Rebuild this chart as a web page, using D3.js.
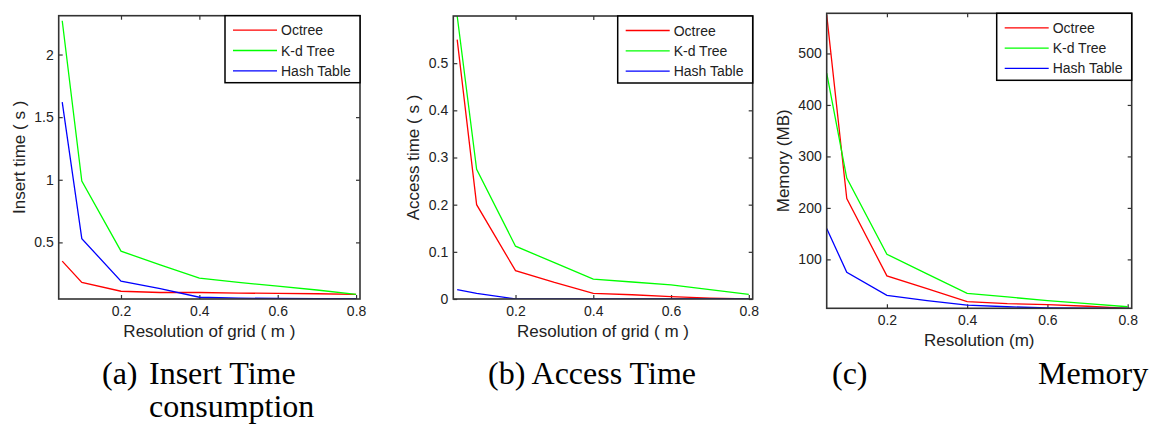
<!DOCTYPE html>
<html>
<head>
<meta charset="utf-8">
<script src="https://cdn.jsdelivr.net/npm/d3@7"></script>
<style>
body { margin: 0; background: #fff; }
svg text { font-family: Arial, "Liberation Sans", sans-serif; fill: #222; }
.caption { font-family: "Liberation Serif", "Times New Roman", serif; fill: #000; }
</style>
</head>
<body>
<svg id="chart" width="1150" height="425"></svg>
<script>
// grid resolutions (m) of every run
var resolution = [0.05, 0.1, 0.2, 0.3, 0.4, 0.5, 0.6, 0.7, 0.8]
var seriesNames = ["Octree", "K-d Tree", "Hash Table"]
var seriesColors = ["#ff0000", "#00ff00", "#0000ff"]

// (a) insert time (s)
var insertOctree = [0.35, 0.18, 0.11, 0.10, 0.10, 0.095, 0.093, 0.09, 0.085]
var insertKdTree = [2.27, 0.99, 0.43, 0.32, 0.215, 0.18, 0.15, 0.12, 0.085]
var insertHash = [1.62, 0.53, 0.19, 0.13, 0.062, 0.055, 0.052, 0.05, 0.05]

// (b) access time (s)
var accessOctree = [0.55, 0.2, 0.06, 0.035, 0.012, 0.009, 0.005, 0.002, 0]
var accessKdTree = [0.6, 0.275, 0.112, 0.077, 0.042, 0.036, 0.03, 0.02, 0.01]
var accessHash = [0.02, 0.012, 0, 0, 0, 0, 0, 0, 0]

// (c) memory (MB)
var memOctree = [575, 218, 68, 43, 18, 14, 12, 9, 5]
var memKdTree = [462, 258, 110, 72, 34, 27, 20, 14, 8]
var memHash = [160, 75, 30, 20, 11, 8, 6, 5.5, 5]

// tick labels
var xTicks = [0.2, 0.4, 0.6, 0.8]
var insertTicks = [0.5, 1, 1.5, 2]
var accessTicks = [0, 0.1, 0.2, 0.3, 0.4, 0.5]
var memoryTicks = [100, 200, 300, 400, 500]

var svg = d3.select("#chart")

function Panel(options) {
    var left = options.left,
        top = options.top,
        width = options.width,
        height = options.height,
        series = options.series,
        id = options.id

    var g = svg.append("g")
        .attr("transform", "translate(" + left + "," + top + ")")

    var x = d3.scaleLinear().domain(options.xDomain).range([0, width])
    var y = d3.scaleLinear().domain(options.yDomain).range([height, 0])

    g.append("clipPath").attr("id", "clip" + id)
        .append("rect").attr("width", width).attr("height", height)

    var fmt = function(d) { return String(d) }

    // axes with inward ticks on all four sides (box style)
    g.append("g")
        .attr("transform", "translate(0," + height + ")")
        .call(d3.axisBottom(x).tickValues(xTicks).tickFormat(fmt).tickSizeInner(-4).tickSizeOuter(0).tickPadding(7))
    g.append("g")
        .call(d3.axisTop(x).tickValues(xTicks).tickFormat("").tickSizeInner(-4).tickSizeOuter(0))
    g.append("g")
        .call(d3.axisLeft(y).tickValues(options.yTicks).tickFormat(fmt).tickSizeInner(-4).tickSizeOuter(0).tickPadding(5))
    g.append("g")
        .attr("transform", "translate(" + width + ",0)")
        .call(d3.axisRight(y).tickValues(options.yTicks).tickFormat("").tickSizeInner(-4).tickSizeOuter(0))

    g.selectAll(".domain").remove()
    g.selectAll(".tick line").attr("stroke", "#333").attr("stroke-width", 1.2)
    g.selectAll(".tick text").style("font-size", "14px").attr("fill", "#222")

    var line = d3.line()
        .x(function(d, i) { return x(resolution[i]) })
        .y(function(d) { return y(d) })

    g.append("g").attr("clip-path", "url(#clip" + id + ")")
        .selectAll("path")
        .data(series)
        .enter().append("path")
        .attr("d", function(d) { return line(d) })
        .attr("fill", "none")
        .attr("stroke", function(d, i) { return seriesColors[i] })
        .attr("stroke-width", 1.3)

    // frame
    g.append("rect")
        .attr("width", width).attr("height", height)
        .attr("fill", "none").attr("stroke", "#333").attr("stroke-width", 1.6)

    // labels
    g.append("text")
        .attr("text-anchor", "middle")
        .attr("x", width / 2)
        .attr("y", height + 38)
        .style("font-size", "17px")
        .text(options.xLabel)

    g.append("text")
        .attr("text-anchor", "middle")
        .attr("transform", "rotate(-90)")
        .attr("x", -height / 2)
        .attr("y", options.yLabelX)
        .style("font-size", "17px")
        .text(options.yLabel)

    // legend in the top right corner
    var lw = 135, lh = 67
    var key = g.append("g")
        .attr("class", "legend")
        .attr("transform", "translate(" + (width - lw) + ",0)")

    key.append("rect")
        .attr("width", lw).attr("height", lh)
        .attr("fill", "#fff").attr("stroke", "#000").attr("stroke-width", 1.5)

    seriesNames.forEach(function(name, i) {
        var ky = 14.5 + i * 20.3
        key.append("line")
            .attr("x1", 8).attr("x2", 52)
            .attr("y1", ky).attr("y2", ky)
            .attr("stroke", seriesColors[i]).attr("stroke-width", 1.3)
        key.append("text")
            .attr("x", 56).attr("y", ky).attr("dy", "0.36em")
            .style("font-size", "14px")
            .text(name)
    })
}

Panel({ id: 1, left: 58.7, top: 15.7, width: 301.3, height: 283.3,
    xDomain: [0.041, 0.81], yDomain: [0.048, 2.31], yTicks: insertTicks,
    series: [insertOctree, insertKdTree, insertHash],
    xLabel: "Resolution of grid ( m )", yLabel: "Insert time ( s )", yLabelX: -34 })

Panel({ id: 2, left: 453.3, top: 16, width: 299.4, height: 283,
    xDomain: [0.04, 0.81], yDomain: [0, 0.6], yTicks: accessTicks,
    series: [accessOctree, accessKdTree, accessHash],
    xLabel: "Resolution of grid ( m )", yLabel: "Access time ( s )", yLabelX: -34 })

Panel({ id: 3, left: 826.7, top: 13.3, width: 305, height: 295,
    xDomain: [0.05, 0.81], yDomain: [5, 578], yTicks: memoryTicks,
    series: [memOctree, memKdTree, memHash],
    xLabel: "Resolution (m)", yLabel: "Memory (MB)", yLabelX: -38 })

// sub-figure captions
var caps = [
    { x: 102, y: 384, t: "(a)" }, { x: 149, y: 384, t: "Insert Time" }, { x: 149, y: 417, t: "consumption" },
    { x: 488, y: 384, t: "(b) Access Time" },
    { x: 832, y: 384, t: "(c)" }, { x: 1038, y: 384, t: "Memory" }
]
svg.selectAll(".caption")
    .data(caps)
    .enter().append("text")
    .attr("class", "caption")
    .attr("x", function(d) { return d.x })
    .attr("y", function(d) { return d.y })
    .style("font-size", "32px")
    .text(function(d) { return d.t })
</script>
</body>
</html>
